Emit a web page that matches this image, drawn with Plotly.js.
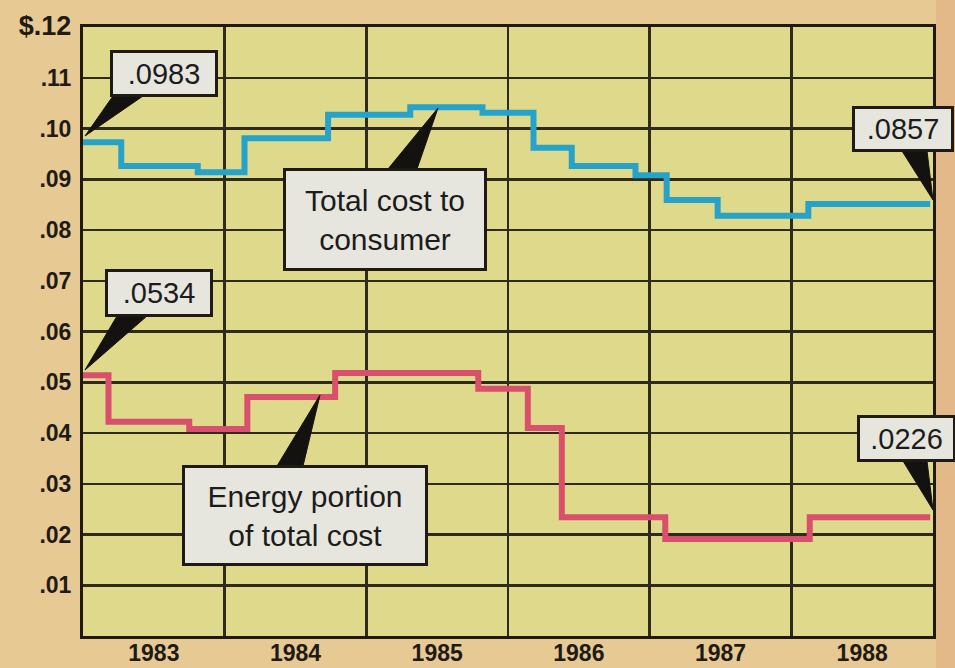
<!DOCTYPE html>
<html>
<head>
<meta charset="utf-8">
<script src="https://cdn.plot.ly/plotly-3.0.1.min.js"></script>
<style>
  html, body { margin: 0; padding: 0; background: #e6c993; }
  #chart { width: 955px; height: 668px; }
</style>
</head>
<body>
<div id="chart"></div>
<script>
// ---- data ----
const yearLabels = ['1983', '1984', '1985', '1986', '1987', '1988'];
const yearCenters = [1983.5, 1984.5, 1985.5, 1986.5, 1987.5, 1988.5];
const yearBounds = [1984, 1985, 1986, 1987, 1988];
const yTickVals = [0.01, 0.02, 0.03, 0.04, 0.05, 0.06, 0.07, 0.08, 0.09, 0.10, 0.11, 0.12];
const yTickText = ['.01', '.02', '.03', '.04', '.05', '.06', '.07', '.08', '.09', '.10', '.11',
                   '<span style="font-size:27px">$.12</span>'];

// Total cost to consumer (step changes, decimal years)
const totalX = [1983.00, 1983.27, 1983.81, 1984.14, 1984.73, 1985.31, 1985.82, 1986.18, 1986.45, 1986.90, 1987.12, 1987.48, 1988.12, 1988.98];
const totalY = [0.0973, 0.0926, 0.0914, 0.0981, 0.1027, 0.1042, 0.1031, 0.0962, 0.0926, 0.0908, 0.0859, 0.0828, 0.0851, 0.0851];

// Energy portion of total cost
const energyX = [1983.00, 1983.18, 1983.75, 1984.16, 1984.78, 1985.79, 1986.14, 1986.38, 1987.11, 1988.13, 1988.98];
const energyY = [0.0514, 0.0422, 0.0408, 0.0471, 0.0518, 0.0487, 0.0410, 0.0234, 0.0191, 0.0234, 0.0234];

// callout labels
const labelTotalStart = '.0983';
const labelTotalEnd = '.0857';
const labelEnergyStart = '.0534';
const labelEnergyEnd = '.0226';
const labelTotal = 'Total cost to<br>consumer';
const labelEnergy = 'Energy portion<br>of total cost';

// ---- layout helpers (pixel -> paper) ----
const W = 955, H = 668;
const L = 83, R = 933, T = 27, B = 636;
const px = v => (v - L) / (R - L);
const py = v => (B - v) / (B - T);

const FONT = "'Liberation Sans', Arial, Helvetica, sans-serif";
const INK = '#1f1b14';
const GRID = '#2e2a1c';

function box(text, x0, x1, y0, y1, size) {
  const bw = 3;
  return {
    xref: 'paper', yref: 'paper',
    x: px((x0 + x1) / 2), y: py((y0 + y1) / 2),
    xanchor: 'center', yanchor: 'middle',
    text: text, showarrow: false,
    font: {family: FONT, size: size, color: '#1c1c1c'},
    bgcolor: '#e6e6df', bordercolor: INK, borderwidth: bw, borderpad: 0,
    width: (x1 - x0) - 2 * bw, height: (y1 - y0) - 2 * bw,
    align: 'center'
  };
}
function wedge(ax, ay, bx, by, cx, cy) {
  return {
    type: 'path', xref: 'paper', yref: 'paper',
    path: `M ${px(ax)} ${py(ay)} L ${px(bx)} ${py(by)} L ${px(cx)} ${py(cy)} Z`,
    fillcolor: '#141210', line: {color: '#141210', width: 1}
  };
}

const traces = [
  {
    x: totalX, y: totalY, type: 'scatter', mode: 'lines',
    line: {shape: 'hv', color: '#27a3c9', width: 6},
    name: 'Total cost to consumer', hoverinfo: 'x+y'
  },
  {
    x: energyX, y: energyY, type: 'scatter', mode: 'lines',
    line: {shape: 'hv', color: '#d9506c', width: 6},
    name: 'Energy portion of total cost', hoverinfo: 'x+y'
  }
];

const layout = {
  width: W, height: H,
  margin: {l: L, r: W - R, t: T, b: H - B, pad: 0},
  paper_bgcolor: '#e6c993',
  plot_bgcolor: '#dfd98c',
  showlegend: false,
  font: {family: FONT, color: INK},
  xaxis: {
    range: [1983, 1989], fixedrange: true,
    tickmode: 'array', tickvals: yearCenters, ticktext: yearLabels,
    ticks: '', showgrid: false, zeroline: false,
    tickfont: {family: FONT, size: 23, color: INK, weight: 'bold'},
    ticklabelstandoff: -6,
    showline: true, mirror: true, linecolor: INK, linewidth: 3,
    minor: {tickmode: 'array', tickvals: yearBounds, showgrid: true, gridcolor: GRID, gridwidth: 2.5, ticks: ''}
  },
  yaxis: {
    range: [0, 0.12], fixedrange: true,
    tickmode: 'array', tickvals: yTickVals, ticktext: yTickText,
    ticks: '', showgrid: true, gridcolor: GRID, gridwidth: 2.5, zeroline: false,
    tickfont: {family: FONT, size: 23, color: INK, weight: 'bold'},
    ticklabelstandoff: 4,
    showline: true, mirror: true, linecolor: INK, linewidth: 3
  },
  shapes: [
    {type: 'rect', xref: 'paper', yref: 'paper', x0: px(936), x1: px(960), y0: py(-5), y1: py(675),
     fillcolor: '#e3b98a', line: {width: 0}, layer: 'below'},
    wedge(113, 96, 143, 96, 85, 136),
    wedge(388, 169, 417, 169, 438, 108),
    wedge(902, 151, 927, 151, 933, 200),
    wedge(117, 316, 147, 316, 85, 370),
    wedge(277, 466, 303, 466, 320, 395),
    wedge(903, 461, 927, 461, 933, 510)
  ],
  annotations: [
    box(labelTotalStart, 110, 218, 50, 97, 29),
    box(labelTotal, 283, 487, 168, 271, 30),
    box(labelTotalEnd, 852, 954, 106, 152, 29),
    box(labelEnergyStart, 105, 213, 269, 317, 29),
    box(labelEnergy, 182, 428, 465, 566, 30),
    box(labelEnergyEnd, 857, 956, 415, 462, 29)
  ]
};

Plotly.newPlot('chart', traces, layout, {displayModeBar: false, staticPlot: true});
</script>
</body>
</html>
